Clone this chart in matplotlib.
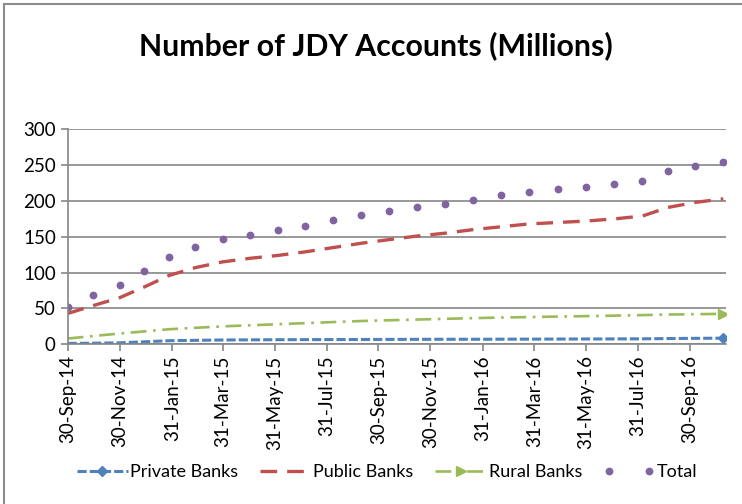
import matplotlib
matplotlib.use("Agg")
import matplotlib.pyplot as plt
import matplotlib.dates as mdates
from matplotlib.legend_handler import HandlerLine2D
from matplotlib.patches import Rectangle
import numpy as np
import pandas as pd

# dates of each reading
dates = pd.to_datetime([
    "2014-09-30", "2014-10-30", "2014-11-30", "2014-12-29", "2015-01-27",
    "2015-02-27", "2015-03-31", "2015-05-02", "2015-06-04", "2015-07-06",
    "2015-08-08", "2015-09-10", "2015-10-12", "2015-11-14", "2015-12-17",
    "2016-01-19", "2016-02-21", "2016-03-25", "2016-04-28", "2016-05-31",
    "2016-07-03", "2016-08-05", "2016-09-04", "2016-10-06", "2016-11-08",
])

private_banks = [1.2, 1.5, 2, 3.5, 5, 5.5, 6, 6.2, 6.4, 6.5, 6.6, 6.7, 6.8,
                 6.9, 7, 7, 7.1, 7.2, 7.3, 7.4, 7.5, 7.6, 8, 8.3, 8.5]
public_banks = [43, 54, 65, 80, 96, 107, 115, 120, 124, 129, 135, 141, 146,
                151, 155, 160, 164, 168, 170, 172, 175, 179, 191, 198, 203]
rural_banks = [8, 11.5, 15, 18, 21, 23, 25, 26.5, 28, 29.5, 31, 32.5, 33.5,
               34.5, 35.5, 36.5, 37.3, 38, 38.7, 39.3, 40, 40.7, 41.5, 42, 42.5]
total = [52.5, 68.8, 82.7, 102.7, 122.3, 136.2, 146.5, 153, 159.5, 165.1,
         173, 180.4, 186.4, 191.2, 195.8, 201.8, 207.9, 213, 216.3, 219.1,
         223.2, 228.3, 241.8, 248.8, 253.9]

tick_dates = pd.date_range("2014-09-30", "2016-09-30", freq="2ME")
y_ticks = [0, 50, 100, 150, 200, 250, 300]

plt.rcParams["font.family"] = ["Lato", "DejaVu Sans"]


class EndMarker(HandlerLine2D):
    # legend handle with the marker at the right end only
    def get_xdata(self, legend, xdescent, ydescent, width, height, fontsize):
        xdata, _ = super().get_xdata(legend, xdescent, ydescent, width, height, fontsize)
        return xdata, [xdata[-1]]


fig = plt.figure(figsize=(7.42, 5.04), dpi=100)
ax = fig.add_axes([0.0912, 0.3169, 0.887, 0.4265])

grey = "#868686"
l_priv, = ax.plot(dates, private_banks, color="#4F81BD", lw=2.2, dashes=(3, 1),
                  marker="D", markersize=5, markevery=[-1], label="Private Banks")
l_pub, = ax.plot(dates, public_banks, color="#C0504D", lw=2.4, dashes=(5, 3),
                 label="Public Banks")
l_rur, = ax.plot(dates, rural_banks, color="#9BBB59", lw=1.9,
                 dashes=(6, 2.5, 1, 2.5), marker=">", markersize=7,
                 markevery=[-1], label="Rural Banks")
l_tot, = ax.plot(dates, total, color="#8064A2", linestyle="none", marker="o",
                 markersize=4.6, label="Total")

ax.set_ylim(0, 300)
ax.set_yticks(y_ticks)
ax.set_xlim(dates[0], dates[-1] + pd.Timedelta(days=3))
ax.set_xticks(tick_dates)
ax.xaxis.set_major_formatter(mdates.DateFormatter("%d-%b-%y"))
plt.setp(ax.get_xticklabels(), rotation=90)
ax.tick_params(axis="both", labelsize=13.5, color=grey, length=5, width=1.2)
ax.tick_params(axis="x", pad=3)

ax.grid(axis="y", color=grey, lw=1.2)
ax.set_axisbelow(True)
for s in ["top", "right"]:
    ax.spines[s].set_visible(False)
for s in ["left", "bottom"]:
    ax.spines[s].set_color(grey)
    ax.spines[s].set_linewidth(1.2)

fig.text(0.507, 0.91, "Number of JDY Accounts (Millions)", ha="center",
         va="center", fontsize=21.8, fontweight="bold")

fig.legend(handles=[l_priv, l_pub, l_rur, l_tot], loc="center",
           bbox_to_anchor=(0.522, 0.063), ncol=4, frameon=False, fontsize=13,
           handlelength=2.8, columnspacing=1.2, handletextpad=0.15,
           handler_map={l_priv: EndMarker(), l_rur: EndMarker(),
                        l_tot: HandlerLine2D(numpoints=2)})

# outer chart border (right and bottom edges fall outside the picture)
fig.patches.append(Rectangle((4 / 742, -0.1), 1.2, 1.1 - 4 / 504,
                             transform=fig.transFigure, fill=False,
                             edgecolor="#8c8c8c", lw=1.5))

fig.savefig("out.png", dpi=100)
